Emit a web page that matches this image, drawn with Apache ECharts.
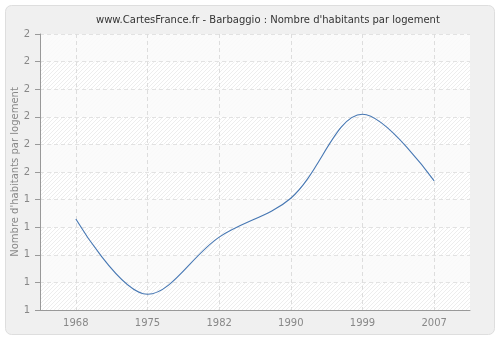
<!DOCTYPE html>
<html>
<head>
<meta charset="utf-8">
<script src="https://cdn.jsdelivr.net/npm/echarts@6/dist/echarts.min.js"></script>
<style>
html,body{margin:0;padding:0;background:#fff;}
#c{width:500px;height:340px;}
</style>
</head>
<body>
<div id="c"></div>
<script>
var years = ['1968', '1975', '1982', '1990', '1999', '2007'];
var values = [1.33, 1.057, 1.264, 1.405, 1.709, 1.468];
var yMin = 1, yMax = 2, yStep = 0.1;
var titleText = "www.CartesFrance.fr - Barbaggio : Nombre d'habitants par logement";
var yName = "Nombre d'habitants par logement";

var pc = document.createElement('canvas');
pc.width = 4; pc.height = 4;
var g = pc.getContext('2d');
g.fillStyle = '#ffffff'; g.fillRect(0, 0, 4, 4);
g.strokeStyle = '#ededed'; g.lineWidth = 1;
g.beginPath();
g.moveTo(-1, 5); g.lineTo(5, -1);
g.moveTo(-1, 1); g.lineTo(1, -1);
g.moveTo(3, 5); g.lineTo(5, 3);
g.stroke();

var font = 'DejaVu Sans';
var chart = echarts.init(document.getElementById('c'));
chart.setOption({
  animation: false,
  backgroundColor: '#ffffff',
  graphic: [{
    type: 'rect', z: -10, silent: true,
    shape: {x: 5.5, y: 5.5, width: 489, height: 329, r: 6},
    style: {fill: '#f0f0f0', stroke: '#dedede', lineWidth: 1}
  }],
  title: {
    text: titleText, left: 91, top: 10,
    textStyle: {fontFamily: font, fontSize: 10, fontWeight: 'normal', color: '#333'}
  },
  grid: {
    left: 40, right: 30, top: 34, bottom: 30, show: true,
    outerBoundsMode: 'none', containLabel: false,
    backgroundColor: {image: pc, repeat: 'repeat'},
    borderWidth: 0
  },
  xAxis: {
    type: 'category', data: years, boundaryGap: true,
    axisLine: {lineStyle: {color: '#999'}},
    axisTick: {alignWithLabel: true, lineStyle: {color: '#999'}, length: 5},
    axisLabel: {color: '#888', fontFamily: font, fontSize: 10, margin: 8},
    splitLine: {show: true, alignWithLabel: true, lineStyle: {color: '#dddddd', type: [4, 3]}}
  },
  yAxis: {
    type: 'value', min: yMin, max: yMax, interval: yStep,
    name: yName, nameLocation: 'middle', nameGap: 20, nameMoveOverlap: false,
    nameTextStyle: {color: '#888', fontFamily: font, fontSize: 10},
    axisLine: {show: true, lineStyle: {color: '#999'}},
    axisTick: {show: true, lineStyle: {color: '#999'}, length: 5},
    axisLabel: {color: '#888', fontFamily: font, fontSize: 10, margin: 10,
      formatter: function (v) { return String(Math.round(v)); }},
    splitLine: {show: true, lineStyle: {color: '#e2e2e2', type: [4, 3]}},
    splitArea: {show: true, areaStyle: {color: ['rgba(250,250,250,0)', 'rgba(250,250,250,0.85)']}}
  },
  series: [{
    type: 'line', data: values, smooth: 0.35, symbol: 'none',
    lineStyle: {color: '#4677b3', width: 1.1}
  }]
});
</script>
</body>
</html>
